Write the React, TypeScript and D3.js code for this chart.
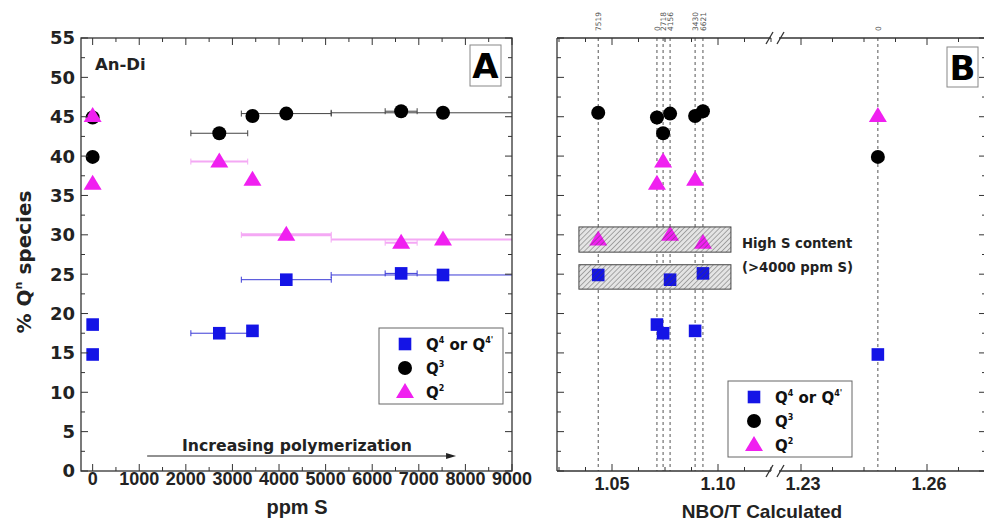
import React from 'react';
import * as d3 from 'd3';

// ---- data ----
const ppmS = [0, 0, 2718, 3430, 4156, 6621, 7519];
const ppmLabels = ['0', '0', '2718', '3430', '4156', '6621', '7519'];
const nboT = [1.2483, 1.0712, 1.0741, 1.0892, 1.0774, 1.0929, 1.0435];
const q4 = [14.8, 18.6, 17.5, 17.8, 24.3, 25.1, 24.9];
const q3 = [39.9, 44.9, 42.9, 45.1, 45.4, 45.7, 45.5];
const q2 = [45.1, 36.5, 39.3, 37.0, 30.0, 29.0, 29.4];
const ppmErr = [0, 0, 610, 0, 965, 343, 2400];
const yTickValues = d3.range(0, 56, 5);
const xTickValuesA = d3.range(0, 9001, 1000);
const xTickLabelsBLeft = [1.05, 1.1];
const xTickLabelsBRight = [1.23, 1.26];
const highSBoxesY = [[27.8, 31.0], [23.1, 26.2]];
const highSBoxX = [1.0344, 1.1061];
const legendLabels = ['Q4', 'Q3', 'Q2'];

// ---- layout ----
const W = 984, H = 527;
const top = 38, bottom = 471;
const A = { left: 81, right: 512 };
const B = { left: 557, right: 986, brk: 775 };

const yScale = d3.scaleLinear().domain([0, 55]).range([bottom, top]);
const xA = d3.scaleLinear().domain([-250, 9000]).range([A.left, A.right]);
const xBL = d3.scaleLinear().domain([1.05, 1.1]).range([612, 718]);
const xBR = d3.scaleLinear().domain([1.23, 1.26]).range([801, 927]);
const xB = (v: number) => (v < 1.15 ? xBL(v) : xBR(v));

const BLUE = '#1414e6';
const MAG = '#f020f0';
const AX = '#333';
const BOLD = "'DejaVu Sans', sans-serif";
const ARIAL = "'Liberation Sans', Arial, sans-serif";

const triPath = 'M0,-9L9,6L-9,6Z';

function Square({ x, y }: { x: number; y: number }) {
  return <rect x={x - 6.3} y={y - 6.3} width={12.6} height={12.6} fill={BLUE} />;
}
function Dot({ x, y }: { x: number; y: number }) {
  return <circle cx={x} cy={y} r={7} fill="#000" />;
}
function Tri({ x, y }: { x: number; y: number }) {
  return <path d={triPath} transform={`translate(${x},${y})`} fill={MAG} />;
}

function YTicks({ x, dir }: { x: number; dir: number }) {
  const minor = d3.range(2.5, 55, 5);
  return (
    <g stroke={AX} strokeWidth={1}>
      {yTickValues.map((v) => (
        <line key={'M' + v} x1={x} x2={x + dir * 7} y1={yScale(v)} y2={yScale(v)} />
      ))}
      {minor.map((v) => (
        <line key={'m' + v} x1={x} x2={x + dir * 4} y1={yScale(v)} y2={yScale(v)} />
      ))}
    </g>
  );
}

function Legend({ x0, y0 }: { x0: number; y0: number }) {
  const rows = [0, 24, 48];
  return (
    <g>
      <rect x={x0} y={y0} width={124} height={76} fill="#fff" stroke="#666" strokeWidth={1} />
      <Square x={x0 + 26} y={y0 + 16} />
      <Dot x={x0 + 26} y={y0 + 40} />
      <Tri x={x0 + 26} y={y0 + 64} />
      {legendLabels.map((l, i) => (
        <text key={l} x={x0 + 47} y={y0 + 22 + rows[i]} fontFamily={BOLD} fontWeight="bold" fontSize={15} fill="#111">
          Q
          <tspan dy={-7} fontSize={8}>{l.slice(1)}</tspan>
          {i === 0 ? (
            <>
              <tspan dy={7}> or Q</tspan>
              <tspan dy={-7} fontSize={8}>4'</tspan>
            </>
          ) : null}
        </text>
      ))}
    </g>
  );
}

function HBar({ x1, x2, y, color, w }: { x1: number; x2: number; y: number; color: string; w: number }) {
  return (
    <g stroke={color} strokeWidth={w}>
      <line x1={x1} x2={x2} y1={y} y2={y} />
      {x1 > A.left + 1 ? <line x1={x1} x2={x1} y1={y - 3} y2={y + 3} strokeWidth={1} /> : null}
      {x2 < A.right - 1 ? <line x1={x2} x2={x2} y1={y - 3} y2={y + 3} strokeWidth={1} /> : null}
    </g>
  );
}

function PanelA() {
  const minorX = d3.range(500, 9000, 1000);
  const idx = d3.range(ppmS.length);
  return (
    <g>
      {/* error bars */}
      {idx
        .filter((i) => ppmErr[i] > 0)
        .map((i) => {
          const x1 = xA(Math.max(-250, ppmS[i] - ppmErr[i]));
          const x2 = xA(Math.min(9000, ppmS[i] + ppmErr[i]));
          return (
            <g key={'e' + i}>
              <HBar x1={x1} x2={x2} y={yScale(q2[i])} color="#f4a8f4" w={i === 4 ? 3 : 2} />
              <HBar x1={x1} x2={x2} y={yScale(q3[i])} color="#444" w={1} />
              <HBar x1={x1} x2={x2} y={yScale(q4[i])} color="#3b3bd6" w={1} />
            </g>
          );
        })}
      {idx.map((i) => <Square key={'s' + i} x={xA(ppmS[i])} y={yScale(q4[i])} />)}
      {idx.map((i) => <Dot key={'c' + i} x={xA(ppmS[i])} y={yScale(q3[i])} />)}
      {idx.map((i) => <Tri key={'t' + i} x={xA(ppmS[i])} y={yScale(q2[i])} />)}

      {/* frame */}
      <rect x={A.left} y={top} width={A.right - A.left} height={bottom - top} fill="none" stroke={AX} strokeWidth={1.3} />
      <YTicks x={A.left} dir={1} />
      <YTicks x={A.right} dir={-1} />
      <g stroke={AX} strokeWidth={1}>
        {xTickValuesA.map((v) => (
          <g key={'xt' + v}>
            <line x1={xA(v)} x2={xA(v)} y1={bottom} y2={bottom - 7} />
            <line x1={xA(v)} x2={xA(v)} y1={top} y2={top + 7} />
          </g>
        ))}
        {minorX.map((v) => (
          <g key={'xm' + v}>
            <line x1={xA(v)} x2={xA(v)} y1={bottom} y2={bottom - 4} />
            <line x1={xA(v)} x2={xA(v)} y1={top} y2={top + 4} />
          </g>
        ))}
      </g>
      {/* tick labels */}
      {yTickValues.map((v) => (
        <text key={'yl' + v} x={75} y={yScale(v)} dy="0.36em" textAnchor="end" fontFamily={BOLD} fontWeight="bold" fontSize={18} fill="#222">
          {v}
        </text>
      ))}
      {xTickValuesA.map((v) => (
        <text key={'xl' + v} x={xA(v)} y={485} textAnchor="middle" fontFamily={ARIAL} fontWeight="bold" fontSize={18} fill="#222">
          {v}
        </text>
      ))}
      <text x={297} y={514} textAnchor="middle" fontFamily={ARIAL} fontWeight="bold" fontSize={20} fill="#222">
        ppm S
      </text>
      <text transform="translate(31,262) rotate(-90)" textAnchor="middle" fontFamily={BOLD} fontWeight="bold" fontSize={20} fill="#222">
        % Q<tspan dy={-9} fontSize={11}>n</tspan>
        <tspan dy={9}> species</tspan>
      </text>
      <text x={95} y={70} fontFamily={BOLD} fontWeight="bold" fontSize={16.5} fill="#222">
        An-Di
      </text>
      <rect x={470} y={45} width={31} height={41} fill="#fff" stroke="#888" strokeWidth={1} />
      <text x={485.5} y={78} textAnchor="middle" fontFamily={BOLD} fontWeight="bold" fontSize={34} fill="#000">
        A
      </text>
      {/* arrow */}
      <text x={297} y={451} textAnchor="middle" fontFamily={BOLD} fontWeight="bold" fontSize={15.7} fill="#222">
        Increasing polymerization
      </text>
      <line x1={xA(1170)} x2={xA(7650)} y1={456} y2={456} stroke="#222" strokeWidth={1} />
      <path d={`M${xA(7800)},456 l-10,-3 l0,6 Z`} fill="#222" />
      <Legend x0={379} y0={328} />
    </g>
  );
}

function PanelB() {
  const idx = d3.range(nboT.length);
  const leftTicks = d3.range(1.025, 1.126, 0.0125).filter((v) => xBL(v) > B.left + 1 && xBL(v) < B.brk - 4);
  const rightTicks = d3.range(1.2225, 1.2751, 0.0075).filter((v) => xBR(v) > B.brk + 4 && xBR(v) < B.right - 1);
  const isMajor = (v: number) => [1.05, 1.1, 1.23, 1.26].some((m) => Math.abs(m - v) < 1e-6);
  const gap = [B.brk - 4, B.brk + 4];
  const bx = xBL(highSBoxX[0]);
  const bw = xBL(highSBoxX[1]) - xBL(highSBoxX[0]);
  return (
    <g>
      <defs>
        <pattern id="hatch" width={3.6} height={3.6} patternUnits="userSpaceOnUse" patternTransform="rotate(45)">
          <line x1={0} y1={0} x2={0} y2={3.6} stroke="#444" strokeWidth={1} strokeOpacity={0.8} />
        </pattern>
      </defs>
      {/* dashed guide lines */}
      {idx.map((i) => (
        <line key={'d' + i} x1={xB(nboT[i])} x2={xB(nboT[i])} y1={top} y2={bottom} stroke="#555" strokeWidth={1} strokeDasharray="3,3" />
      ))}
      {idx.map((i) => (
        <text
          key={'tl' + i}
          transform={`translate(${xB(nboT[i]) + 3},31) rotate(-90)`}
          fontFamily="'DejaVu Sans', sans-serif"
          fontSize={7.5}
          fill="#555"
        >
          {ppmLabels[i]}
        </text>
      ))}
      {highSBoxesY.map((b, k) => (
        <rect key={'hf' + k} x={bx} y={yScale(b[1])} width={bw} height={yScale(b[0]) - yScale(b[1])} fill="#e4e4e4" />
      ))}
      {idx.map((i) => <Square key={'s' + i} x={xB(nboT[i])} y={yScale(q4[i])} />)}
      {idx.map((i) => <Dot key={'c' + i} x={xB(nboT[i])} y={yScale(q3[i])} />)}
      {idx.map((i) => <Tri key={'t' + i} x={xB(nboT[i])} y={yScale(q2[i])} />)}
      {highSBoxesY.map((b, k) => (
        <rect
          key={'hb' + k}
          x={bx}
          y={yScale(b[1])}
          width={bw}
          height={yScale(b[0]) - yScale(b[1])}
          fill="url(#hatch)"
          stroke="#444"
          strokeWidth={1}
        />
      ))}
      <text x={742} y={248} fontFamily={BOLD} fontWeight="bold" fontSize={13.2} fill="#222">
        High S content
      </text>
      <text x={742} y={272} fontFamily={BOLD} fontWeight="bold" fontSize={13.2} fill="#222">
        (&gt;4000 ppm S)
      </text>

      {/* frame */}
      <g stroke={AX} strokeWidth={1.3} fill="none">
        <line x1={B.left} x2={B.left} y1={top} y2={bottom} />
        <line x1={B.right} x2={B.right} y1={top} y2={bottom} />
        <line x1={B.left} x2={gap[0]} y1={top} y2={top} />
        <line x1={gap[1]} x2={B.right} y1={top} y2={top} />
        <line x1={B.left} x2={gap[0]} y1={bottom} y2={bottom} />
        <line x1={gap[1]} x2={B.right} y1={bottom} y2={bottom} />
        {[top, bottom].map((y) => (
          <g key={'br' + y}>
            <line x1={gap[0] - 5} x2={gap[0] + 2} y1={y + 6} y2={y - 6} />
            <line x1={gap[1] - 2} x2={gap[1] + 5} y1={y + 6} y2={y - 6} />
          </g>
        ))}
      </g>
      <YTicks x={B.left} dir={1} />
      <YTicks x={B.right} dir={-1} />
      <g stroke={AX} strokeWidth={1}>
        {leftTicks.map((v) => (
          <g key={'lt' + v}>
            <line x1={xBL(v)} x2={xBL(v)} y1={bottom} y2={bottom - (isMajor(v) ? 7 : 4)} />
            <line x1={xBL(v)} x2={xBL(v)} y1={top} y2={top + (isMajor(v) ? 7 : 4)} />
          </g>
        ))}
        {rightTicks.map((v) => (
          <g key={'rt' + v}>
            <line x1={xBR(v)} x2={xBR(v)} y1={bottom} y2={bottom - (isMajor(v) ? 7 : 4)} />
            <line x1={xBR(v)} x2={xBR(v)} y1={top} y2={top + (isMajor(v) ? 7 : 4)} />
          </g>
        ))}
      </g>
      {xTickLabelsBLeft.map((v) => (
        <text key={'bl' + v} x={xBL(v)} y={490} textAnchor="middle" fontFamily={ARIAL} fontWeight="bold" fontSize={18} fill="#222">
          {v.toFixed(2)}
        </text>
      ))}
      {xTickLabelsBRight.map((v) => (
        <text key={'br' + v} x={xBR(v) + 2} y={490} textAnchor="middle" fontFamily={ARIAL} fontWeight="bold" fontSize={18} fill="#222">
          {v.toFixed(2)}
        </text>
      ))}
      <text x={762} y={518} textAnchor="middle" fontFamily={ARIAL} fontWeight="bold" fontSize={19} fill="#222">
        NBO/T Calculated
      </text>
      <rect x={947} y={47} width={31} height={40} fill="#fff" stroke="#888" strokeWidth={1} />
      <text x={962.5} y={80} textAnchor="middle" fontFamily={BOLD} fontWeight="bold" fontSize={34} fill="#000">
        B
      </text>
      <Legend x0={728} y0={381} />
    </g>
  );
}

export default function App() {
  return (
    <svg
      width={W}
      height={H}
      viewBox={`0 0 ${W} ${H}`}
      style={{ position: 'absolute', left: 0, top: 0, background: '#fff', display: 'block' }}
    >
      <rect width={W} height={H} fill="#fff" />
      <PanelA />
      <PanelB />
    </svg>
  );
}
